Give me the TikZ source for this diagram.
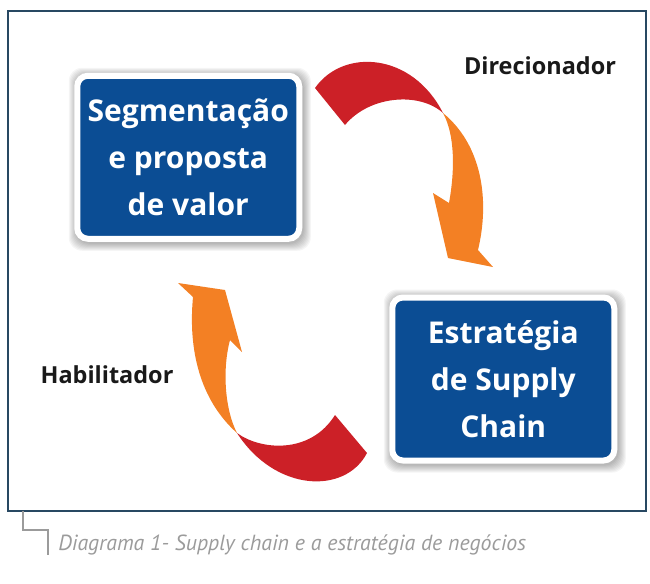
\documentclass[tikz,border=0pt]{standalone}
\usepackage{fontspec}
\newfontfamily\diagfont{PT Sans}
\newfontfamily\boldfont{Open Sans}
\usetikzlibrary{calc}
\definecolor{boxblue}{RGB}{11,77,148}
\definecolor{ribbonred}{RGB}{204,32,39}
\definecolor{ribbonorange}{RGB}{243,128,36}
\definecolor{framecol}{RGB}{40,72,98}
\definecolor{capgray}{RGB}{155,155,155}
\tikzset{
    boxnode/.style={rectangle,rounded corners=8pt,fill=boxblue,draw=white,
        line width=4.5pt,minimum width=166.5pt,minimum height=122.25pt,
        inner sep=0pt,outer sep=0pt,text=white,align=center,
        font=\boldfont\bfseries\fontsize{22.5}{35.5}\selectfont},
    glow/.style={fill=black,opacity=0.04,rounded corners=10pt},
    redpart/.style={fill=ribbonred,draw=none},
    orangepart/.style={fill=ribbonorange,draw=none},
    rolelabel/.style={font=\boldfont\bfseries\fontsize{17.6}{20}\selectfont,text=black!90},
    framebox/.style={draw=framecol,line width=1.1pt},
    capline/.style={draw=capgray,line width=0.8pt}
}

\begin{document}
\begin{tikzpicture}[x=0.75pt,y=-0.75pt]
    \useasboundingbox (0,0) rectangle (650,583);
    % Frame
    \draw[framebox] (8,11) rectangle (646,511);
    % Box centres
    \coordinate (segc) at (188.25,157.25);
    \coordinate (scc) at (503.25,379);
    % Soft glow behind boxes
    \foreach \c in {segc,scc} {
        \foreach \g in {3,4,...,10}
            \fill[glow] ($(\c)+(-111-\g+1.5,-81.5-\g+2)$) rectangle ($(\c)+(111+\g+1.5,81.5+\g+2)$);
    }
    % Boxes
    \node[boxnode] (seg) at (segc) {Segmentação\\e proposta\\de valor};
    \node[boxnode] (sc) at (scc) {Estratégia\\de Supply\\Chain};
    % Direcionador ribbon
    \coordinate (dtailA) at (315,88);
    \coordinate (dtailB) at (345,125);
    \coordinate (dtwist) at (443,113);
    \fill[redpart] (dtailA) .. controls (343,48) and (412,52) .. (dtwist)
        .. controls (420,92) and (370,95) .. (dtailB) -- cycle;
    \fill[orangepart] (dtwist) .. controls (482,145) and (490,200) .. (478,250)
        -- (493,267) -- (448,258) -- (433,193) -- (449,203)
        .. controls (455,170) and (455,135) .. (dtwist) -- cycle;
    % Habilitador ribbon
    \coordinate (htailA) at (335,415);
    \coordinate (htailB) at (367,453);
    \coordinate (htwist) at (237,433);
    \fill[redpart] (htailB) .. controls (345,495) and (275,492) .. (htwist)
        .. controls (260,450) and (310,455) .. (htailA) -- cycle;
    \fill[orangepart] (htwist) .. controls (200,400) and (188,350) .. (193,297)
        -- (178,283) -- (225,290) -- (242,352) -- (230,340)
        .. controls (222,370) and (225,410) .. (htwist) -- cycle;
    % Labels
    \node[rolelabel] (dir) at (540,66) {Direcionador};
    \node[rolelabel] (hab) at (107,375) {Habilitador};
    % Caption
    \draw[capline] (23,511) |- (48,530) -- (48,555);
    \node[anchor=base west,inner sep=0pt,text=capgray,
        font=\diagfont\itshape\fontsize{16.4}{19}\selectfont] (cap) at (58,550)
        {Diagrama 1- Supply chain e a estratégia de negócios};
\end{tikzpicture}
\end{document}
